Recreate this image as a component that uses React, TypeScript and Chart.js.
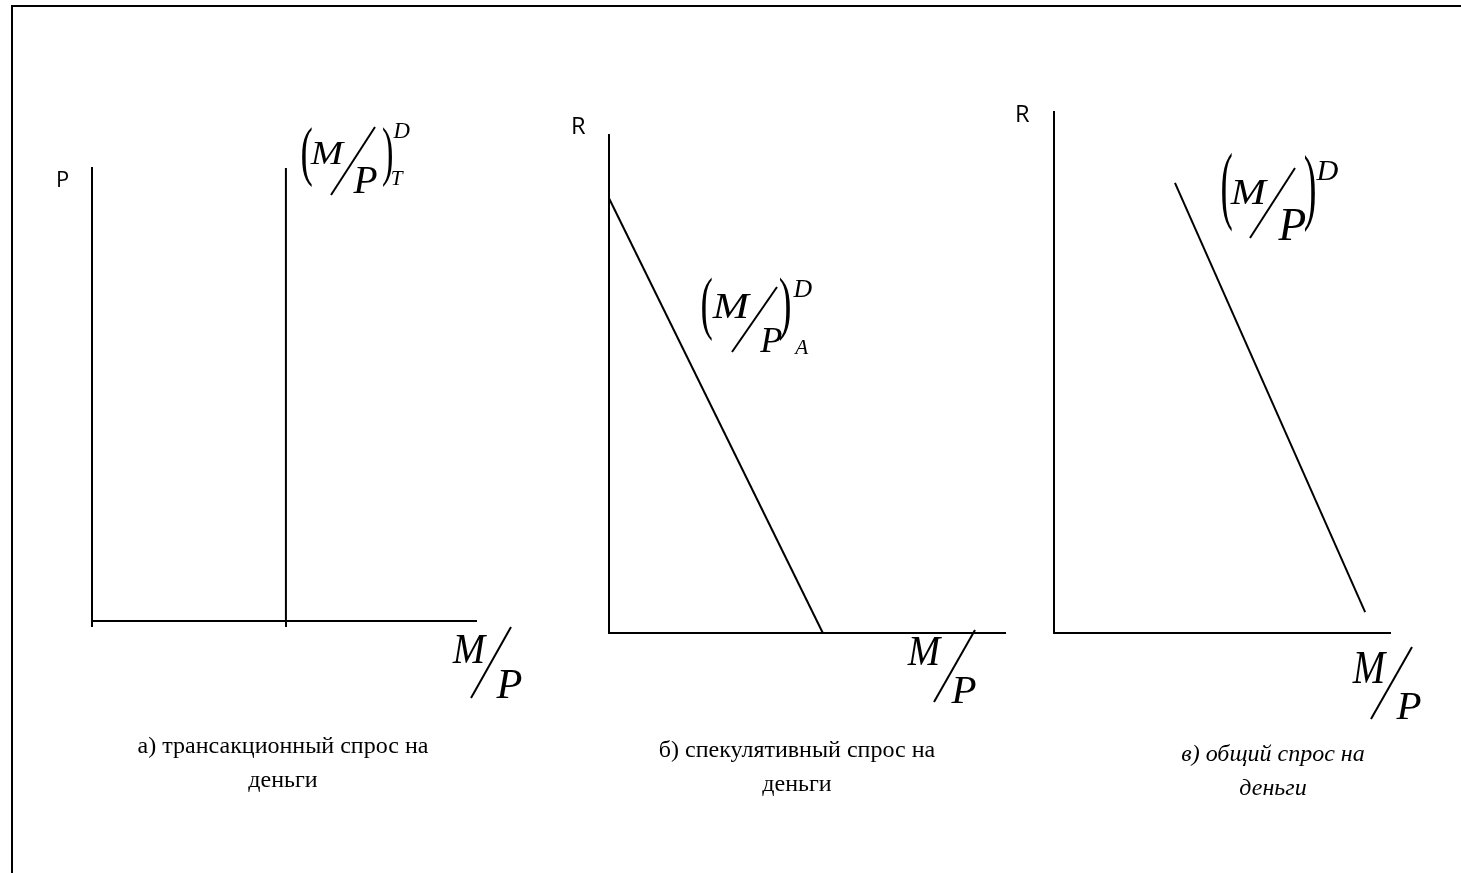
import React, { useEffect, useRef } from "react";
import { Chart, registerables } from "chart.js";

Chart.register(...registerables);

const W = 1461;
const H = 873;

// ---- data (unitless values) ----
const transX = [5.05, 5.05];
const transY = [0, 10];
const transTicks = [0, 5.05];

const specX = [0, 5.4];
const specY = [8.73, 0];

const totalX = [3.6, 9.26];
const totalY = [8.64, 0.4];

const captionA = ["а) трансакционный спрос на", "деньги"];
const captionB = ["б) спекулятивный спрос на", "деньги"];
const captionC = ["в) общий спрос на", "деньги"];

const axisNameA = "P";
const axisNameB = "R";
const axisNameC = "R";

const SERIF = "'Liberation Serif', 'Times New Roman', serif";
const SANS = "'Open Sans', 'Noto Sans', sans-serif";

type Box = { x: number; top: number; h: number };
type WBox = { x: number; top: number; w: number; h: number };
type FracSpec = {
  lp?: WBox;
  rp?: WBox;
  m: WBox;
  p: Box;
  slash: [number, number, number, number];
  sup?: { text: string } & Box;
  sub?: { text: string } & Box;
};

function fitH(ctx: CanvasRenderingContext2D, text: string, style: string, family: string, b: Box) {
  ctx.save();
  ctx.font = `${style} 100px ${family}`;
  ctx.textAlign = "left";
  ctx.textBaseline = "alphabetic";
  const m = ctx.measureText(text);
  const bh = m.actualBoundingBoxAscent + m.actualBoundingBoxDescent;
  const k = b.h / bh;
  ctx.translate(b.x, b.top);
  ctx.scale(k, k);
  ctx.fillStyle = "#000";
  ctx.fillText(text, m.actualBoundingBoxLeft, m.actualBoundingBoxAscent);
  ctx.restore();
}

function fitBox(ctx: CanvasRenderingContext2D, text: string, style: string, b: WBox) {
  ctx.save();
  ctx.font = `${style} 100px ${SERIF}`;
  ctx.textAlign = "left";
  ctx.textBaseline = "alphabetic";
  const m = ctx.measureText(text);
  const bh = m.actualBoundingBoxAscent + m.actualBoundingBoxDescent;
  const bw = m.actualBoundingBoxLeft + m.actualBoundingBoxRight;
  ctx.translate(b.x, b.top);
  ctx.scale(b.w / bw, b.h / bh);
  ctx.fillStyle = "#000";
  ctx.fillText(text, m.actualBoundingBoxLeft, m.actualBoundingBoxAscent);
  ctx.restore();
}

function drawFrac(ctx: CanvasRenderingContext2D, f: FracSpec) {
  if (f.lp) fitBox(ctx, "(", "", f.lp);
  if (f.rp) fitBox(ctx, ")", "", f.rp);
  fitBox(ctx, "M", "italic", f.m);
  fitH(ctx, "P", "italic", SERIF, f.p);
  if (f.sup) fitH(ctx, f.sup.text, "italic", SERIF, f.sup);
  if (f.sub) fitH(ctx, f.sub.text, "italic", SERIF, f.sub);
  ctx.save();
  ctx.strokeStyle = "#000";
  ctx.lineWidth = 2;
  ctx.beginPath();
  ctx.moveTo(f.slash[0], f.slash[1]);
  ctx.lineTo(f.slash[2], f.slash[3]);
  ctx.stroke();
  ctx.restore();
}

function drawCaption(ctx: CanvasRenderingContext2D, lines: string[], cx: number, base: number, italic: boolean) {
  ctx.save();
  ctx.font = `${italic ? "italic " : ""}24px ${SERIF}`;
  ctx.fillStyle = "#000";
  ctx.textAlign = "center";
  ctx.textBaseline = "alphabetic";
  lines.forEach((l, i) => ctx.fillText(l, cx, base + i * 34));
  ctx.restore();
}

type Panel = {
  area: { left: number; top: number; right: number; bottom: number };
  xs: number[];
  ys: number[];
  ticks: number[] | null;
  axisName: string;
  axisNameBox: Box;
  curve: FracSpec;
  axisLabel: FracSpec;
  caption: string[];
  captionX: number;
  captionBase: number;
  italic: boolean;
};

const panels: Panel[] = [
  {
    area: { left: 92, top: 168, right: 476, bottom: 621 },
    xs: transX,
    ys: transY,
    ticks: transTicks,
    axisName: axisNameA,
    axisNameBox: { x: 58, top: 171, h: 16 },
    curve: {
      lp: { x: 302, top: 127, w: 10, h: 61 },
      rp: { x: 383, top: 127, w: 9, h: 61 },
      m: { x: 310, top: 142, w: 35, h: 22 },
      p: { x: 353, top: 167, h: 26 },
      slash: [375, 127, 331, 195],
      sup: { text: "D", x: 393, top: 123, h: 15 },
      sub: { text: "T", x: 392, top: 171, h: 14 },
    },
    axisLabel: {
      m: { x: 452, top: 635, w: 35, h: 28 },
      p: { x: 496, top: 670, h: 28 },
      slash: [511, 627, 471, 698],
    },
    caption: captionA,
    captionX: 283,
    captionBase: 753,
    italic: false,
  },
  {
    area: { left: 609, top: 135, right: 1005, bottom: 633 },
    xs: specX,
    ys: specY,
    ticks: null,
    axisName: axisNameB,
    axisNameBox: { x: 573, top: 117, h: 17 },
    curve: {
      lp: { x: 702, top: 277, w: 10, h: 65 },
      rp: { x: 780, top: 277, w: 10, h: 65 },
      m: { x: 712, top: 295, w: 39, h: 23 },
      p: { x: 760, top: 328, h: 24 },
      slash: [777, 287, 732, 352],
      sup: { text: "D", x: 793, top: 280, h: 17 },
      sub: { text: "A", x: 794, top: 340, h: 14 },
    },
    axisLabel: {
      m: { x: 907, top: 637, w: 35, h: 28 },
      p: { x: 951, top: 676, h: 27 },
      slash: [975, 630, 934, 702],
    },
    caption: captionB,
    captionX: 797,
    captionBase: 757,
    italic: false,
  },
  {
    area: { left: 1054, top: 112, right: 1390, bottom: 633 },
    xs: totalX,
    ys: totalY,
    ticks: null,
    axisName: axisNameC,
    axisNameBox: { x: 1017, top: 105, h: 17 },
    curve: {
      lp: { x: 1222, top: 153, w: 10, h: 79 },
      rp: { x: 1305, top: 155, w: 10, h: 77 },
      m: { x: 1230, top: 180, w: 38, h: 24 },
      p: { x: 1278, top: 210, h: 30 },
      slash: [1295, 168, 1250, 238],
      sup: { text: "D", x: 1316, top: 160, h: 20 },
    },
    axisLabel: {
      m: { x: 1352, top: 653, w: 35, h: 30 },
      p: { x: 1396, top: 692, h: 27 },
      slash: [1412, 647, 1371, 719],
    },
    caption: captionC,
    captionX: 1273,
    captionBase: 761,
    italic: true,
  },
];

function PanelChart({ panel }: { panel: Panel }) {
  const ref = useRef<HTMLCanvasElement | null>(null);
  useEffect(() => {
    if (!ref.current) return;
    const a = panel.area;
    const labels = {
      id: "labels",
      afterDraw(chart: Chart) {
        const ctx = chart.ctx;
        fitH(ctx, panel.axisName, "", SANS, panel.axisNameBox);
        drawFrac(ctx, panel.curve);
        drawFrac(ctx, panel.axisLabel);
        drawCaption(ctx, panel.caption, panel.captionX, panel.captionBase, panel.italic);
      },
    };
    const chart = new Chart(ref.current, {
      type: "scatter",
      data: {
        datasets: [
          {
            data: panel.xs.map((x, i) => ({ x, y: panel.ys[i] })),
            showLine: true,
            borderColor: "#000",
            borderWidth: 2,
            pointRadius: 0,
            pointHoverRadius: 0,
            clip: false as any,
          },
        ],
      },
      options: {
        animation: false,
        responsive: false,
        maintainAspectRatio: false,
        events: [],
        layout: {
          padding: { left: a.left, top: a.top, right: W - a.right, bottom: H - a.bottom },
        },
        plugins: { legend: { display: false }, tooltip: { enabled: false } },
        scales: {
          x: {
            type: "linear",
            min: 0,
            max: 10,
            border: { display: true, color: "#000", width: 2 },
            grid: {
              display: !!panel.ticks,
              drawOnChartArea: false,
              drawTicks: true,
              tickLength: 6,
              color: "#000",
              lineWidth: 2,
            },
            ticks: { display: false },
            afterBuildTicks: (s: any) => {
              if (panel.ticks) s.ticks = panel.ticks.map((v) => ({ value: v }));
            },
            afterFit: (s: any) => {
              s.height = 0;
            },
          },
          y: {
            type: "linear",
            min: 0,
            max: 10,
            border: { display: true, color: "#000", width: 2 },
            grid: { display: false, drawTicks: false },
            ticks: { display: false },
            afterFit: (s: any) => {
              s.width = 0;
            },
          },
        },
      },
      plugins: [labels],
    } as any);
    return () => chart.destroy();
  }, [panel]);
  return (
    <canvas
      ref={ref}
      width={W}
      height={H}
      style={{ position: "absolute", left: 0, top: 0, width: W, height: H }}
    />
  );
}

export default function App() {
  return (
    <div
      style={{
        position: "fixed",
        left: 0,
        top: 0,
        width: W,
        height: H,
        background: "#fff",
        overflow: "hidden",
      }}
    >
      <div
        style={{
          position: "absolute",
          left: 11,
          top: 5,
          width: W,
          height: H,
          borderTop: "2px solid #000",
          borderLeft: "2px solid #000",
        }}
      />
      {panels.map((p, i) => (
        <PanelChart key={i} panel={p} />
      ))}
    </div>
  );
}
